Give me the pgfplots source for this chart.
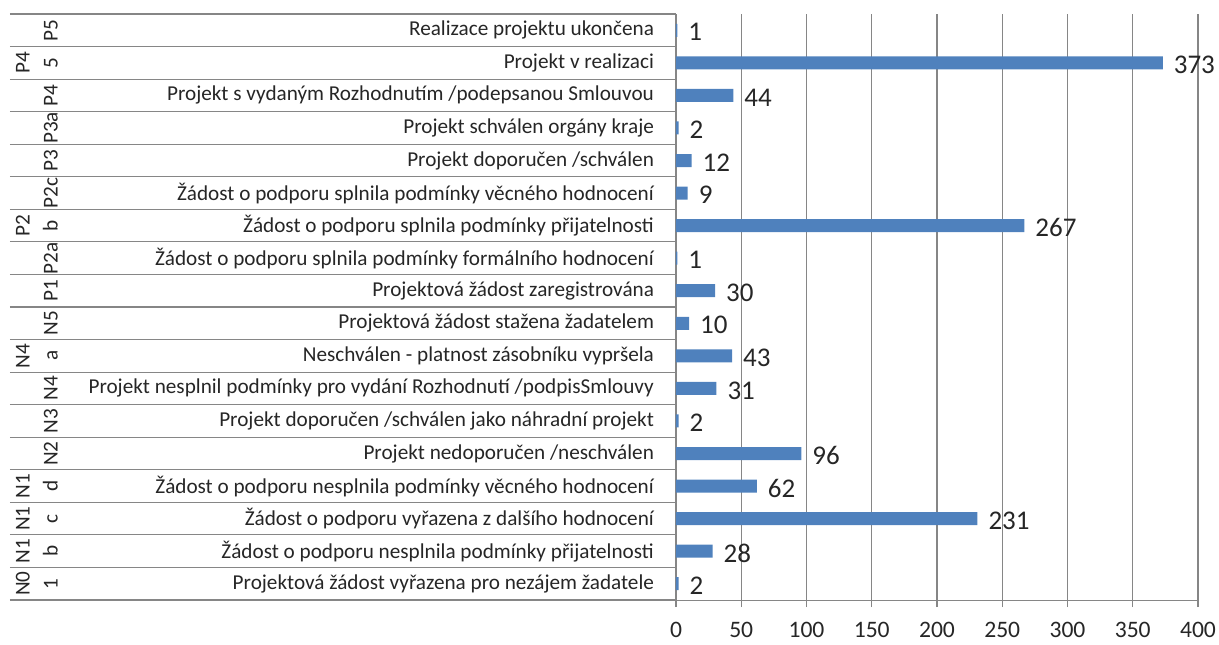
\documentclass[border=0pt]{standalone}
\usepackage{pgfplots}
\pgfplotsset{compat=1.18}
\usepackage{pgfplotstable}
\usepackage{fontspec}
\setmainfont{Carlito}
\definecolor{barblue}{HTML}{4F81BD}
\definecolor{gridgray}{HTML}{868686}
\definecolor{txt}{HTML}{262626}
\pgfplotstableread[col sep=semicolon]{
y;val;label
0;2;Projektová žádost vyřazena pro nezájem žadatele
1;28;Žádost o podporu nesplnila podmínky přijatelnosti
2;231;Žádost o podporu vyřazena z dalšího hodnocení
3;62;Žádost o podporu nesplnila podmínky věcného hodnocení
4;96;Projekt nedoporučen /neschválen
5;2;Projekt doporučen /schválen jako náhradní projekt
6;31;Projekt nesplnil podmínky pro vydání Rozhodnutí /podpisSmlouvy
7;43;Neschválen - platnost zásobníku vypršela
8;10;Projektová žádost stažena žadatelem
9;30;Projektová žádost zaregistrována
10;1;Žádost o podporu splnila podmínky formálního hodnocení
11;267;Žádost o podporu splnila podmínky přijatelnosti
12;9;Žádost o podporu splnila podmínky věcného hodnocení
13;12;Projekt doporučen /schválen
14;2;Projekt schválen orgány kraje
15;44;Projekt s vydaným Rozhodnutím /podepsanou Smlouvou
16;373;Projekt v realizaci
17;1;Realizace projektu ukončena
}\datatable
\begin{document}
\begin{tikzpicture}
\begin{axis}[
  at={(0,0)}, anchor=south west,
  width=261pt, height=293pt, scale only axis,
  xbar, bar width=6.5pt,
  xmin=0, xmax=400, ymin=-0.5, ymax=17.5,
  axis x line*=bottom, axis y line*=left,
  axis line style={gridgray, -},
  xtick={0,50,...,400},
  xmajorgrids, grid style={gridgray, line width=0.6pt},
  major tick length=3.5pt, tick align=outside,
  x tick style={gridgray, line width=0.6pt},
  ytick=data, y tick style={draw=none},
  yticklabels from table={\datatable}{label},
  yticklabel style={font=\fontsize{10.6}{12}\selectfont, text=txt, anchor=east, xshift=-4pt},
  xticklabel style={font=\fontsize{11.8}{14}\selectfont, text=txt, yshift=-4pt},
  /pgf/number format/assume math mode=true,
  nodes near coords,
  nodes near coords style={font=\fontsize{13.5}{16}\selectfont, text=txt, anchor=west, xshift=2pt, yshift=-1pt},
  clip=false,
]
\addplot[fill=barblue, draw=none] table[x=val, y=y] {\datatable};
\tikzset{code/.style={rotate=90, align=center, font=\fontsize{10.6}{14}\selectfont, text=txt, inner sep=0pt}}
\node[code] at ([xshift=-319pt]axis cs:0,17) {\strut\\\strut P5};
\node[code] at ([xshift=-319pt]axis cs:0,16) {\strut P4\\\strut 5};
\node[code] at ([xshift=-319pt]axis cs:0,15) {\strut\\\strut P4};
\node[code] at ([xshift=-319pt]axis cs:0,14) {\strut\\\strut P3a};
\node[code] at ([xshift=-319pt]axis cs:0,13) {\strut\\\strut P3};
\node[code] at ([xshift=-319pt]axis cs:0,12) {\strut\\\strut P2c};
\node[code] at ([xshift=-319pt]axis cs:0,11) {\strut P2\\\strut b};
\node[code] at ([xshift=-319pt]axis cs:0,10) {\strut\\\strut P2a};
\node[code] at ([xshift=-319pt]axis cs:0,9) {\strut\\\strut P1};
\node[code] at ([xshift=-319pt]axis cs:0,8) {\strut\\\strut N5};
\node[code] at ([xshift=-319pt]axis cs:0,7) {\strut N4\\\strut a};
\node[code] at ([xshift=-319pt]axis cs:0,6) {\strut\\\strut N4};
\node[code] at ([xshift=-319pt]axis cs:0,5) {\strut\\\strut N3};
\node[code] at ([xshift=-319pt]axis cs:0,4) {\strut\\\strut N2};
\node[code] at ([xshift=-319pt]axis cs:0,3) {\strut N1\\\strut d};
\node[code] at ([xshift=-319pt]axis cs:0,2) {\strut N1\\\strut c};
\node[code] at ([xshift=-319pt]axis cs:0,1) {\strut N1\\\strut b};
\node[code] at ([xshift=-319pt]axis cs:0,0) {\strut N0\\\strut 1};
\end{axis}
\foreach \k in {0,...,18} \draw[gridgray, line width=0.6pt] (-333pt,\k*16.2778pt) -- (0pt,\k*16.2778pt);
\pgfresetboundingbox
\useasboundingbox (-338pt,-22pt) rectangle (271.5pt,300pt);
\end{tikzpicture}
\end{document}
